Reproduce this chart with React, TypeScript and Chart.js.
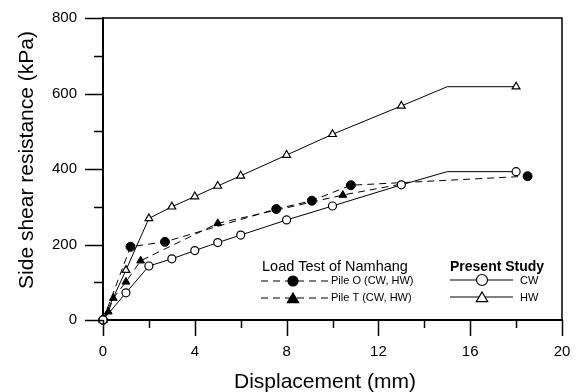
import React, { useEffect, useRef } from 'react';
import { Chart, registerables } from 'chart.js';

Chart.register(...registerables);

// ---- data ----
const cwX = [0, 1, 2, 3, 4, 5, 6, 8, 10, 13, 15, 18];
const cwY = [0, 72, 143, 162, 184, 205, 225, 265, 302, 358, 393, 393];
const hwX = [0, 1, 2, 3, 4, 5, 6, 8, 10, 13, 15, 18];
const hwY = [0, 132, 269, 300, 327, 355, 382, 437, 492, 567, 618, 618];
const pileOX = [0, 1.2, 2.7, 7.55, 9.1, 10.8, 18.5];
const pileOY = [0, 194, 207, 294, 316, 357, 381];
const pileTX = [0, 0.23, 0.45, 1.0, 1.64, 5.0, 10.45, 13];
const pileTY = [0, 22, 58, 101, 157, 256, 331, 360];
const xTicks = [0, 4, 8, 12, 16, 20];
const yTicks = [0, 200, 400, 600, 800];
const xTitle = 'Displacement (mm)';
const yTitle = 'Side shear resistance (kPa)';
const legendLeftTitle = 'Load Test of Namhang';
const legendRightTitle = 'Present Study';
const pileOLabel = 'Pile O (CW, HW)';
const pileTLabel = 'Pile T (CW, HW)';
const cwLabel = 'CW';
const hwLabel = 'HW';

const FONT = '"Liberation Sans", Arial, sans-serif';

const pts = (xs: number[], ys: number[]) => xs.map((x, i) => ({ x, y: ys[i] }));

function drawCircle(ctx: CanvasRenderingContext2D, x: number, y: number, r: number, filled: boolean) {
  ctx.beginPath();
  ctx.arc(x, y, r, 0, Math.PI * 2);
  ctx.fillStyle = filled ? '#000' : '#fff';
  ctx.fill();
  ctx.lineWidth = 1.2;
  ctx.strokeStyle = '#000';
  ctx.stroke();
}
function drawTri(ctx: CanvasRenderingContext2D, x: number, y: number, r: number, filled: boolean) {
  ctx.beginPath();
  ctx.moveTo(x, y - r);
  ctx.lineTo(x + r * 0.95, y + r * 0.6);
  ctx.lineTo(x - r * 0.95, y + r * 0.6);
  ctx.closePath();
  ctx.fillStyle = filled ? '#000' : '#fff';
  ctx.fill();
  ctx.lineWidth = 1.2;
  ctx.strokeStyle = '#000';
  ctx.stroke();
}

const decor = {
  id: 'decor',
  afterDraw(chart: any) {
    const { ctx, chartArea: a, scales } = chart;
    const xs = scales.x;
    const ys = scales.y;
    ctx.save();
    ctx.strokeStyle = '#000';
    // top and right frame
    ctx.lineWidth = 1.5;
    ctx.beginPath();
    ctx.moveTo(a.left, a.top);
    ctx.lineTo(a.right, a.top);
    ctx.lineTo(a.right, a.bottom);
    ctx.stroke();
    // y ticks (major + minor)
    ctx.lineWidth = 1.5;
    const yStep = yTicks[1] - yTicks[0];
    for (let i = 0; i < yTicks.length; i++) {
      const py = Math.round(ys.getPixelForValue(yTicks[i])) + 0.5;
      ctx.beginPath();
      ctx.moveTo(a.left - 18, py);
      ctx.lineTo(a.left, py);
      ctx.stroke();
      if (i < yTicks.length - 1) {
        const pm = Math.round(ys.getPixelForValue(yTicks[i] + yStep / 2)) + 0.5;
        ctx.beginPath();
        ctx.moveTo(a.left - 9, pm);
        ctx.lineTo(a.left, pm);
        ctx.stroke();
      }
    }
    const xStep = xTicks[1] - xTicks[0];
    for (let i = 0; i < xTicks.length; i++) {
      const px = Math.round(xs.getPixelForValue(xTicks[i])) + 0.5;
      ctx.beginPath();
      ctx.moveTo(px, a.bottom);
      ctx.lineTo(px, a.bottom + 16);
      ctx.stroke();
      if (i < xTicks.length - 1) {
        const pm = Math.round(xs.getPixelForValue(xTicks[i] + xStep / 2)) + 0.5;
        ctx.beginPath();
        ctx.moveTo(pm, a.bottom);
        ctx.lineTo(pm, a.bottom + 8);
        ctx.stroke();
      }
    }
    // axis titles
    ctx.fillStyle = '#000';
    ctx.font = `21px ${FONT}`;
    ctx.textAlign = 'center';
    ctx.textBaseline = 'alphabetic';
    ctx.fillText(xTitle, 325, 388);
    ctx.save();
    ctx.translate(33, 160);
    ctx.rotate(-Math.PI / 2);
    ctx.fillText(yTitle, 0, 0);
    ctx.restore();

    // legend
    ctx.textAlign = 'left';
    ctx.font = `14.5px ${FONT}`;
    ctx.fillText(legendLeftTitle, 262, 271);
    ctx.font = `bold 14px ${FONT}`;
    ctx.fillText(legendRightTitle, 450, 271);

    const r1 = 281;
    const r2 = 298;
    ctx.lineWidth = 1;
    ctx.setLineDash([7, 5]);
    ctx.beginPath();
    ctx.moveTo(261, r1); ctx.lineTo(328, r1);
    ctx.moveTo(261, r2); ctx.lineTo(328, r2);
    ctx.stroke();
    ctx.setLineDash([]);
    drawCircle(ctx, 293, r1, 5, true);
    drawTri(ctx, 293, r2 + 1, 6, true);
    ctx.lineWidth = 1;
    ctx.beginPath();
    ctx.moveTo(450, r1 - 1); ctx.lineTo(513, r1 - 1);
    ctx.moveTo(450, r2 - 1); ctx.lineTo(513, r2 - 1);
    ctx.stroke();
    drawCircle(ctx, 482, r1 - 1, 5.5, false);
    drawTri(ctx, 482, r2, 6, false);

    ctx.fillStyle = '#000';
    ctx.font = `11px ${FONT}`;
    ctx.textBaseline = 'middle';
    ctx.fillText(pileOLabel, 331, r1);
    ctx.fillText(pileTLabel, 331, r2);
    ctx.fillText(cwLabel, 520, r1);
    ctx.fillText(hwLabel, 520, r2);
    ctx.restore();
  },
};

export default function App() {
  const ref = useRef<HTMLCanvasElement>(null);
  useEffect(() => {
    document.body.style.margin = '0';
    const canvas = ref.current!;
    const hideAt = (xs: number[], x: number, r: number) => xs.map((v) => (v === x ? 0 : r));
    const chart = new Chart(canvas, {
      type: 'line',
      data: {
        datasets: [
          {
            label: cwLabel,
            data: pts(cwX, cwY),
            borderColor: '#000',
            borderWidth: 1,
            pointStyle: 'circle',
            pointRadius: hideAt(cwX, 15, 4),
            pointBackgroundColor: '#fff',
            pointBorderColor: '#000',
            pointBorderWidth: 1.2,
            clip: false,
          } as any,
          {
            label: hwLabel,
            data: pts(hwX, hwY),
            borderColor: '#000',
            borderWidth: 1,
            pointStyle: 'triangle',
            pointRadius: hideAt(hwX, 15, 4.5),
            pointBackgroundColor: '#fff',
            pointBorderColor: '#000',
            pointBorderWidth: 1.2,
            clip: false,
          },
          {
            label: pileOLabel,
            data: pts(pileOX, pileOY),
            borderColor: '#000',
            borderWidth: 1,
            borderDash: [7, 5],
            pointStyle: 'circle',
            pointRadius: 4.5,
            pointBackgroundColor: '#000',
            pointBorderColor: '#000',
            clip: false,
          },
          {
            label: pileTLabel,
            data: pts(pileTX, pileTY),
            borderColor: '#000',
            borderWidth: 1,
            borderDash: [7, 5],
            pointStyle: 'triangle',
            pointRadius: hideAt(pileTX, 13, 4.5),
            pointBackgroundColor: '#000',
            pointBorderColor: '#000',
            clip: false,
          },
        ],
      },
      options: {
        animation: false,
        responsive: false,
        maintainAspectRatio: false,
        devicePixelRatio: 1,
        layout: { padding: { top: 18, right: 15, left: 0, bottom: 0 } },
        plugins: { legend: { display: false }, tooltip: { enabled: false } },
        elements: { line: { tension: 0 } },
        scales: {
          x: {
            type: 'linear',
            min: 0,
            max: 20,
            afterBuildTicks: (s: any) => {
              s.ticks = xTicks.map((v) => ({ value: v }));
            },
            afterFit: (s: any) => {
              s.height = 72;
              s.paddingLeft = 0;
              s.paddingRight = 0;
            },
            grid: { display: false, drawTicks: false },
            border: { display: true, color: '#000', width: 2 },
            ticks: {
              autoSkip: false,
              maxRotation: 0,
              color: '#000',
              padding: 23,
              font: { family: FONT, size: 15 },
            },
          },
          y: {
            type: 'linear',
            min: 0,
            max: 800,
            afterBuildTicks: (s: any) => {
              s.ticks = yTicks.map((v) => ({ value: v }));
            },
            afterFit: (s: any) => {
              s.width = 103;
              s.paddingTop = 0;
              s.paddingBottom = 0;
            },
            grid: { display: false, drawTicks: false },
            border: { display: true, color: '#000', width: 2 },
            ticks: {
              color: '#000',
              padding: 26,
              font: { family: FONT, size: 15 },
            },
          },
        },
      },
      plugins: [decor],
    });
    return () => chart.destroy();
  }, []);
  return (
    <div style={{ width: 577, height: 392, background: '#fff' }}>
      <canvas ref={ref} width={577} height={392} style={{ display: 'block' }} />
    </div>
  );
}
